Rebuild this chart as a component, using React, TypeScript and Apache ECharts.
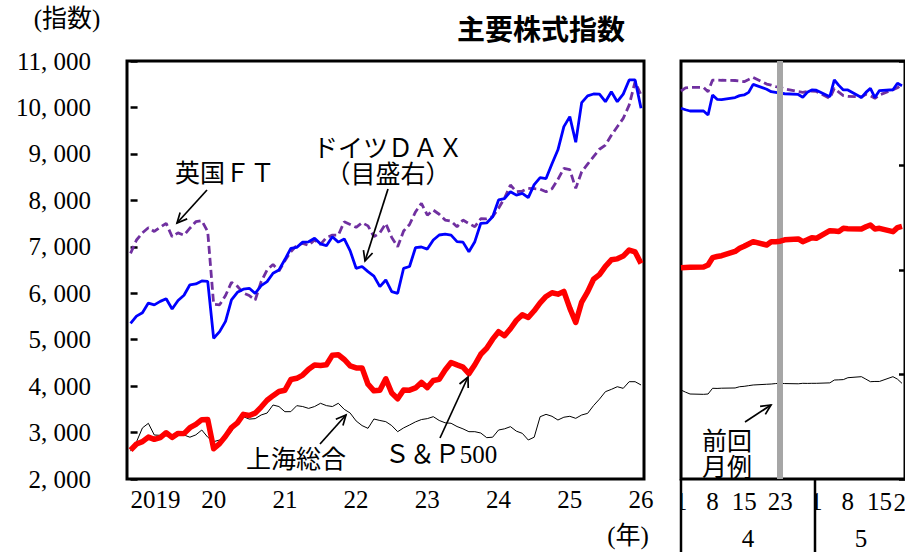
import React, { useEffect, useRef } from "react";
import * as echarts from "echarts";

// ---------- Monthly averages, index 0 = Jan 2019 ... 86 = Mar 2026 ----------
const sp500 = [
  2620, 2754, 2804, 2903, 2854, 2890, 2996, 2897, 2982, 2977, 3104, 3176,
  3278, 3280, 2652, 2762, 2920, 3105, 3208, 3392, 3366, 3418, 3549, 3695,
  3794, 3883, 3910, 4141, 4168, 4238, 4364, 4454, 4446, 4461, 4667, 4675,
  4573, 4436, 4392, 4392, 4041, 3899, 3912, 4158, 3851, 3727, 3917, 3913,
  3961, 4080, 3968, 4122, 4146, 4346, 4509, 4457, 4409, 4269, 4460, 4685,
  4815, 5011, 5171, 5085, 5235, 5415, 5538, 5478, 5622, 5793, 5930, 6010,
  5980, 6040, 5680, 5370, 5810, 6030, 6300, 6400, 6580, 6720, 6740, 6800,
  6930, 6890, 6640,
];
const dax = [
  10940, 11350, 11550, 12100, 12000, 12200, 12350, 11760, 12250, 12550, 13150, 13200,
  13370, 13350, 10079, 10460, 11050, 12280, 12720, 12900, 12950, 12660, 13100, 13330,
  13810, 14000, 14600, 15247, 15300, 15600, 15620, 15820, 15500, 15396, 15913, 15600,
  15781, 15100, 14098, 14200, 13906, 13650, 13042, 13427, 12756, 12663, 14098, 14200,
  15280, 15320, 15200, 15723, 16010, 16060, 16000, 15626, 15600, 15052, 15626, 16682,
  16700, 17060, 18020, 18100, 18497, 18300, 18400, 18153, 18900, 19302, 19250, 20100,
  20900, 22230, 22805, 21334, 23608, 24000, 24107, 24100, 23665, 24239, 23665, 24100,
  24911, 24911, 23286,
];
const ftse = [
  6859, 7146, 7300, 7411, 7330, 7420, 7505, 7217, 7300, 7250, 7400, 7540,
  7562, 7325, 5761, 5750, 5950, 6235, 6150, 6006, 5950, 5854, 6250, 6500,
  6620, 6480, 6700, 6894, 7030, 7074, 7030, 7146, 7050, 7200, 7250, 7250,
  7540, 7480, 7420, 7519, 7450, 7217, 7300, 7500, 7200, 7002, 7340, 7480,
  7750, 7935, 7680, 7790, 7700, 7575, 7550, 7432, 7575, 7500, 7432, 7604,
  7600, 7650, 7828, 8050, 8330, 8186, 8200, 8258, 8250, 8240, 8186, 8250,
  8450, 8690, 8660, 8258, 8615, 8780, 8940, 9100, 9190, 9400, 9585, 9765,
  10050, 10555, 10268,
];
const shanghai = [
  2600, 2800, 3100, 3199, 2947, 2940, 2947, 2880, 2947, 2947, 2900, 2950,
  3055, 2900, 2804, 2840, 2880, 3019, 3250, 3341, 3290, 3300, 3378, 3420,
  3593, 3560, 3449, 3450, 3579, 3560, 3520, 3560, 3630, 3580, 3560, 3630,
  3500, 3420, 3250, 3150, 3091, 3292, 3260, 3235, 3150, 3019, 3100, 3163,
  3230, 3280, 3300, 3342, 3260, 3210, 3200, 3130, 3080, 3019, 3019, 2990,
  2890, 2900, 3055, 3080, 3127, 3030, 2983, 2840, 2900, 3341, 3392, 3350,
  3270, 3330, 3350, 3306, 3378, 3413, 3580, 3720, 3880, 3930, 3987, 3952,
  4095, 4095, 4024,
];

const yearTickMonths = [4.2, 14, 26, 38, 50, 62, 74, 86];
const yearTickLabels = ["2019", "20", "21", "22", "23", "24", "25", "26"];

// ---------- Daily data, day 0 = Apr 1 ----------
const dailyDays = [
  0, 1, 2, 5, 6, 7, 8, 9, 12, 13, 14, 15, 16, 19, 20, 21, 22, 23,
  26, 27, 28, 29, 30, 33, 34, 35, 36, 37, 40, 41, 42, 43, 44, 47, 48, 49,
];
const dailyDax = [
  23290, 23200, 23130, 23130, 22900, 24050, 23800, 23780, 23900, 24010, 24050, 24200, 24660, 24380, 24240, 24200, 24150, 24120,
  24080, 23920, 24200, 24340, 24320, 23950, 24910, 24600, 24340, 24340, 23900, 24200, 24430, 23900, 24300, 24350, 24720, 24580,
];
const dailyFtse = [
  10354, 10420, 10433, 10433, 10340, 10590, 10590, 10585, 10580, 10570, 10554, 10600, 10648, 10504, 10480, 10450, 10433, 10400,
  10340, 10325, 10340, 10354, 10345, 10196, 10411, 10330, 10254, 10240, 10225, 10282, 10250, 10196, 10270, 10380, 10425, 10480,
];
const dailySp500 = [
  6550, 6555, 6560, 6565, 6607, 6765, 6790, 6808, 6900, 6967, 7010, 7060, 7110, 7038, 7110, 7110, 7120, 7150,
  7168, 7110, 7150, 7196, 7182, 7346, 7340, 7330, 7397, 7390, 7383, 7430, 7469, 7383, 7397, 7325, 7412, 7440,
];
const dailyShanghai = [
  3916, 3870, 3830, 3823, 3830, 3953, 3950, 3955, 3960, 3987, 3995, 4010, 4024, 4040, 4045, 4055, 4060, 4055,
  4050, 4060, 4058, 4060, 4060, 4070, 4131, 4135, 4140, 4181, 4203, 4150, 4095, 4100, 4100, 4203, 4150, 4060,
];
const dayTickDays = [0, 7, 14, 22, 30, 37, 44];
const dayTickLabels = ["1", "8", "15", "23", "1", "8", "15"];
const lastDayLabel = "22";
const monthNames = ["4", "5"];
const prevReportDay = 22;

const SERIF = "'Liberation Serif', 'Noto Sans CJK JP', serif";
const SANS = "'Noto Sans CJK JP', sans-serif";

function txt(text: string, x: number, y: number, size = 25, extra: any = {}) {
  return {
    type: "text",
    x,
    y,
    z: 100,
    style: {
      text,
      fontSize: size,
      fontFamily: SERIF,
      fill: "#000",
      align: "center",
      textAlign: "center",
      verticalAlign: "middle",
      textVerticalAlign: "middle",
      ...extra,
    },
  };
}

function arrow(x1: number, y1: number, x2: number, y2: number) {
  const a = Math.atan2(y2 - y1, x2 - x1);
  const len = 11;
  const sp = 0.45;
  const p1 = [x2 - len * Math.cos(a - sp), y2 - len * Math.sin(a - sp)];
  const p2 = [x2 - len * Math.cos(a + sp), y2 - len * Math.sin(a + sp)];
  return [
    { type: "line", z: 100, shape: { x1, y1, x2, y2 }, style: { stroke: "#000", lineWidth: 1.7 } },
    { type: "polyline", z: 100, shape: { points: [p1, [x2, y2], p2] }, style: { stroke: "#000", lineWidth: 1.7, fill: null } },
  ];
}

const yFmt = (v: number) => `${Math.floor(v / 1000)}, ${String(v % 1000).padStart(3, "0")}`;

export default function App() {
  const ref = useRef<HTMLDivElement>(null);
  useEffect(() => {
    if (!ref.current) return;
    const chart = echarts.init(ref.current, undefined, { renderer: "svg" });
    const lineBase = { type: "line", showSymbol: false, symbol: "none", silent: true };
    const monthly = (arr: number[]) => arr.map((v, i) => [i, v]);
    const daily = (arr: number[]) => arr.map((v, k) => [dailyDays[k], v]);
    const axisFont = { fontSize: 25, fontFamily: SERIF, color: "#000" };

    const option: any = {
      animation: false,
      backgroundColor: "#fff",
      grid: [
        { left: 127, top: 61, width: 517, height: 418, show: true, borderColor: "#000", borderWidth: 3, backgroundColor: "transparent" },
        { left: 681, top: 61, width: 226, height: 418, show: true, borderColor: "#000", borderWidth: 3, backgroundColor: "transparent" },
      ],
      xAxis: [
        {
          type: "value", gridIndex: 0, min: -0.6, max: 86.5,
          axisLine: { show: false }, axisTick: { show: false }, splitLine: { show: false },
          axisLabel: {
            ...axisFont, margin: 8,
            customValues: yearTickMonths,
            formatter: (v: number) => { const k = yearTickMonths.indexOf(v); return k >= 0 ? yearTickLabels[k] : ""; },
          },
        },
        {
          type: "value", gridIndex: 1, min: 0, max: 49.67,
          axisLine: { show: false }, axisTick: { show: false }, splitLine: { show: false },
          axisLabel: {
            ...axisFont, margin: 10,
            customValues: dayTickDays,
            formatter: (v: number) => { const k = dayTickDays.indexOf(v); return k >= 0 ? dayTickLabels[k] : ""; },
          },
        },
      ],
      yAxis: [
        {
          type: "value", gridIndex: 0, position: "left", min: 2000, max: 11000, interval: 1000,
          axisLine: { show: false }, splitLine: { show: false },
          axisTick: { show: true, inside: true, length: 7, lineStyle: { color: "#000", width: 2.5 } },
          axisLabel: { ...axisFont, margin: 36, formatter: yFmt },
        },
        { type: "value", gridIndex: 0, position: "right", min: 2000, max: 26000, interval: 6000, show: false },
        { type: "value", gridIndex: 1, position: "left", min: 2000, max: 11000, interval: 1000, show: false },
        {
          type: "value", gridIndex: 1, position: "right", min: 2000, max: 26000, interval: 6000,
          axisLine: { show: false }, splitLine: { show: false },
          axisTick: { show: true, inside: true, length: 6, lineStyle: { color: "#000", width: 2.5 } },
          axisLabel: { show: false },
        },
      ],
      series: [
        { ...lineBase, name: "上海総合", xAxisIndex: 0, yAxisIndex: 0, z: 2, data: monthly(shanghai), lineStyle: { color: "#000", width: 1 } },
        { ...lineBase, name: "英国FT", xAxisIndex: 0, yAxisIndex: 0, z: 3, data: monthly(ftse), lineStyle: { color: "#7030a0", width: 2.8, type: [8, 4] } },
        { ...lineBase, name: "ドイツDAX", xAxisIndex: 0, yAxisIndex: 1, z: 4, data: monthly(dax), lineStyle: { color: "#0000ff", width: 2.8 } },
        { ...lineBase, name: "S&P500", xAxisIndex: 0, yAxisIndex: 0, z: 5, data: monthly(sp500), lineStyle: { color: "#ff0000", width: 5.5, join: "round" } },
        {
          ...lineBase, name: "前回月例", xAxisIndex: 1, yAxisIndex: 2, z: 1, data: [],
          markLine: {
            silent: true, symbol: ["none", "none"], label: { show: false },
            lineStyle: { color: "#a6a6a6", width: 6, type: "solid" },
            data: [{ xAxis: prevReportDay }],
          },
        },
        { ...lineBase, name: "上海総合(日次)", xAxisIndex: 1, yAxisIndex: 2, z: 2, data: daily(dailyShanghai), lineStyle: { color: "#000", width: 1 } },
        { ...lineBase, name: "英国FT(日次)", xAxisIndex: 1, yAxisIndex: 2, z: 3, data: daily(dailyFtse), lineStyle: { color: "#7030a0", width: 2.8, type: [8, 4] } },
        { ...lineBase, name: "ドイツDAX(日次)", xAxisIndex: 1, yAxisIndex: 3, z: 4, data: daily(dailyDax), lineStyle: { color: "#0000ff", width: 2.8 } },
        { ...lineBase, name: "S&P500(日次)", xAxisIndex: 1, yAxisIndex: 2, z: 5, data: daily(dailySp500), lineStyle: { color: "#ff0000", width: 5.5, join: "round" } },
      ],
      graphic: [
        txt("主要株式指数", 541, 28, 28, { fontFamily: SANS, fontWeight: "bold" }),
        txt("(指数)", 67, 18),
        txt("(年)", 628, 535),
        txt("英国ＦＴ", 225, 173),
        ...arrow(207, 190, 177, 223),
        txt("ドイツＤＡＸ", 388, 148),
        txt("（目盛右）", 388, 174),
        ...arrow(388, 189, 365, 261),
        txt("上海総合", 296, 459),
        ...arrow(320, 444, 346, 415),
        txt("Ｓ＆Ｐ500", 441, 454),
        ...arrow(440, 438, 468, 377),
        txt("前回", 727, 441),
        txt("月例", 727, 467),
        ...arrow(745, 422, 771, 405),
        // bottom table of the daily panel
        { type: "rect", z: 101, shape: { x: 668, y: 484, width: 12, height: 36 }, style: { fill: "#fff" } },
        { type: "rect", z: 101, shape: { x: 806, y: 484, width: 8.5, height: 36 }, style: { fill: "#fff" } },
        txt(lastDayLabel, 906, 502),
        txt(monthNames[0], 748, 538),
        txt(monthNames[1], 861, 538),
        { type: "line", z: 102, shape: { x1: 681, y1: 479, x2: 681, y2: 560 }, style: { stroke: "#000", lineWidth: 2.5 } },
        { type: "line", z: 102, shape: { x1: 815, y1: 479, x2: 815, y2: 560 }, style: { stroke: "#000", lineWidth: 2.5 } },
      ],
    };
    chart.setOption(option);
    return () => chart.dispose();
  }, []);
  return (
    <div
      ref={ref}
      style={{ position: "absolute", left: 0, top: 0, width: 905, height: 552, overflow: "hidden", background: "#fff" }}
    />
  );
}
